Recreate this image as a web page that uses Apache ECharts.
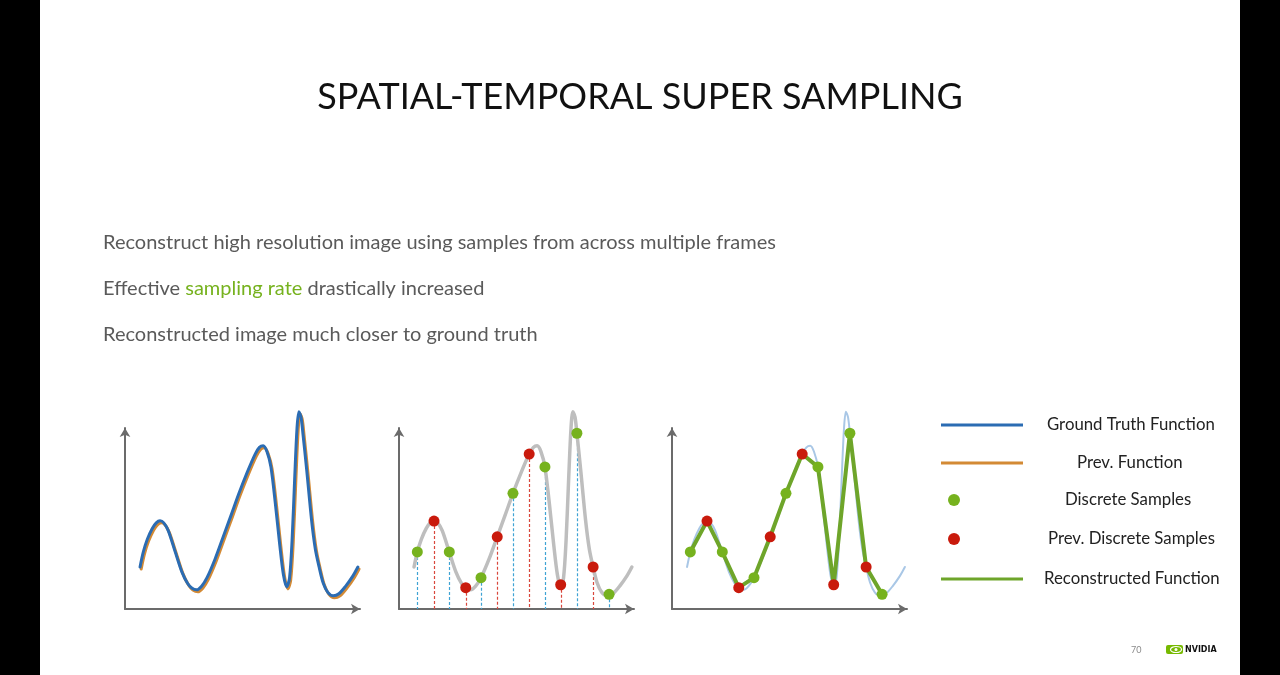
<!DOCTYPE html>
<html>
<head>
<meta charset="utf-8">
<script src="https://cdn.jsdelivr.net/npm/echarts@6/dist/echarts.min.js"></script>
<style>
  html, body { margin: 0; padding: 0; background: #000; }
  #chart { width: 1280px; height: 675px;
    background: linear-gradient(to right, #000 0, #000 40px, #fff 40px, #fff 1240px, #000 1240px); }
</style>
</head>
<body>
<div id="chart"></div>
<script>
// ---- data (axis units: x 0..100 along the time axis, y 0..100 up the value axis) ----
const truthCurve = [[6.4,23.2],[7.8,31.5],[9.5,38.5],[11.6,44.5],[13.3,47.6],[14.9,48.7],[16.5,47.6],[18.4,43.3],[21.4,31.5],[24.2,20.5],[26.6,14.2],[28.4,11.6],[30.5,10.6],[32.6,12.6],[34.9,17.3],[38.3,27.5],[41.8,39.9],[45.2,52.0],[48.5,63.9],[52.0,75.5],[55.4,85.6],[57.2,89.3],[58.8,90.2],[60.4,87.0],[62.1,78.5],[64.0,58.0],[65.8,36.0],[67.4,19.0],[68.8,12.2],[70.0,17.0],[71.1,38.0],[72.2,72.0],[73.2,100.0],[74.0,109.0],[74.9,106.0],[75.7,97.1],[77.3,77.0],[79.4,49.0],[81.0,33.0],[82.6,23.2],[84.3,14.5],[86.3,9.2],[88.6,7.3],[91.0,8.4],[94.0,12.8],[97.0,18.3],[99.1,23.2]];
const prevCurve = [[6.9,22.1],[8.3,30.4],[10.0,37.4],[12.1,43.4],[13.8,46.5],[15.4,47.6],[17.0,46.5],[18.9,42.2],[21.9,30.4],[24.7,19.4],[27.1,13.1],[28.9,10.5],[31.0,9.5],[33.1,11.5],[35.4,16.2],[38.8,26.4],[42.3,38.8],[45.7,50.9],[49.0,62.8],[52.5,74.4],[55.9,84.5],[57.7,88.2],[59.3,89.1],[60.9,85.9],[62.6,77.4],[64.5,56.9],[66.3,34.9],[67.9,17.9],[69.3,11.1],[70.5,15.9],[71.6,36.9],[72.7,70.9],[73.7,98.9],[74.5,107.9],[75.4,104.9],[76.2,96.0],[77.8,75.9],[79.9,47.9],[81.5,31.9],[83.1,22.1],[84.8,13.4],[86.8,8.1],[89.1,6.2],[91.5,7.3],[94.5,11.7],[97.5,17.2],[99.6,22.1]];
const discreteSamples = [[7.8,31.5],[21.4,31.5],[34.9,17.3],[48.5,63.9],[62.1,78.5],[75.7,97.1],[89.4,8.1]];
const prevDiscreteSamples = [[14.9,48.6],[28.4,11.8],[41.8,39.9],[55.4,85.6],[68.8,13.4],[82.6,23.2]];
const legendNames = ['Ground Truth Function','Prev. Function','Discrete Samples','Prev. Discrete Samples','Reconstructed Function'];
const titleText = 'SPATIAL-TEMPORAL SUPER SAMPLING';
const bullets = ['Reconstruct high resolution image using samples from across multiple frames',
                 'Effective {g|sampling rate} drastically increased',
                 'Reconstructed image much closer to ground truth'];
const pageNumber = '70';

// reconstructed function: all samples merged in x order
const reconstructed = discreteSamples.concat(prevDiscreteSamples).sort((a,b)=>a[0]-b[0]);

const C = { blue:'#2b6cb3', orange:'#d38a35', green:'#76b21e', red:'#c91a0c', gray:'#bebebe',
            lightBlue:'#a9c7e6', recon:'#6ea52a', axis:'#6b6b6b', dashBlue:'#3fa3d4', dashRed:'#d9473c' };
const FONT = 'Lato';

const gridLefts = [125, 399, 672];
const grids = gridLefts.map(l => ({ left: l, top: 428, width: 235, height: 181 }));
const axisCommon = {
  type: 'value', min: 0, max: 100,
  axisLine: { show: true, symbol: ['none','arrow'], symbolSize: [8,9], lineStyle: { color: C.axis, width: 2 } },
  axisTick: { show: false }, axisLabel: { show: false }, splitLine: { show: false }
};
const xAxes = gridLefts.map((_,i) => Object.assign({ gridIndex: i }, axisCommon));
const yAxes = gridLefts.map((_,i) => Object.assign({ gridIndex: i }, axisCommon));

function curve(name, data, idx, color, width, z, smooth) {
  return { name, type: 'line', xAxisIndex: idx, yAxisIndex: idx, data, smooth: smooth,
    showSymbol: false, clip: false, z, color,
    itemStyle: { color }, lineStyle: { color, width, cap: 'round', join: 'round' } };
}
function dots(name, data, idx, color) {
  return { name, type: 'scatter', xAxisIndex: idx, yAxisIndex: idx, data, symbolSize: 11,
    clip: false, z: 10, color, itemStyle: { color, opacity: 1 } };
}
// dashed drop line from each sample down to the time axis
function drops(name, data, idx, color) {
  return { name, type: 'custom', xAxisIndex: idx, yAxisIndex: idx, data, z: 1, silent: true,
    color, itemStyle: { color },
    encode: { x: 0, y: 1 },
    renderItem: (params, api) => {
      const top = api.coord([api.value(0), api.value(1)]);
      const bot = api.coord([api.value(0), 0]);
      const x = Math.round(top[0]) + 0.5;
      return { type: 'line', shape: { x1: x, y1: top[1], x2: x, y2: bot[1] },
        style: { stroke: color, lineWidth: 1.2, lineDash: [3, 2], fill: null } };
    } };
}

const series = [
  curve('Prev. Function', prevCurve, 0, C.orange, 3, 3, 0.3),
  curve('Ground Truth Function', truthCurve, 0, C.blue, 3, 4, 0.3),
  drops('Discrete sample drop lines', discreteSamples, 1, C.dashBlue),
  drops('Prev. sample drop lines', prevDiscreteSamples, 1, C.dashRed),
  curve('Ground Truth (samples view)', truthCurve, 1, C.gray, 3.5, 3, 0.3),
  dots('Discrete Samples', discreteSamples, 1, C.green),
  dots('Prev. Discrete Samples', prevDiscreteSamples, 1, C.red),
  curve('Ground Truth (reconstruction view)', truthCurve, 2, C.lightBlue, 2, 3, 0.3),
  curve('Reconstructed Function', reconstructed, 2, C.recon, 4, 5, false),
  dots('Discrete Samples', discreteSamples, 2, C.green),
  dots('Prev. Discrete Samples', prevDiscreteSamples, 2, C.red)
];

// legend: icon positions and text centres
const LFS = 16.8;
const mctx = document.createElement('canvas').getContext('2d');
mctx.font = LFS + 'px ' + FONT;
const legendSpec = [
  { name: legendNames[0], left: 941, cy: 425, icon: 'rect', w: 82, h: 3, color: C.blue,  cx: 1130.5 },
  { name: legendNames[1], left: 941, cy: 463, icon: 'rect', w: 82, h: 3, color: C.orange, cx: 1129.7 },
  { name: legendNames[2], left: 948, cy: 500, icon: 'circle', w: 12, h: 12, color: C.green, cx: 1128.3 },
  { name: legendNames[3], left: 948, cy: 539, icon: 'circle', w: 12, h: 12, color: C.red, cx: 1131 },
  { name: legendNames[4], left: 941, cy: 579, icon: 'rect', w: 82, h: 3, color: C.recon, cx: 1131.5 }
];
const legends = legendSpec.map(l => {
  const tw = mctx.measureText(l.name).width;
  const pad = Math.max(0, Math.round(l.cx - tw / 2 - (l.left + l.w + 5)));
  return {
    left: l.left, top: l.cy - 10, padding: 0, itemWidth: l.w, itemHeight: l.h, selectedMode: false,
    data: [{ name: l.name, icon: l.icon, itemStyle: { color: l.color, opacity: 1 } }],
    textStyle: { fontFamily: FONT, fontSize: LFS, color: '#222', lineHeight: 20, padding: [0,0,0,pad] }
  };
});

const BFS = 20;
const bodyStyle = { fontFamily: FONT, fontSize: BFS, color: '#5a5a5a', lineHeight: 24, fontWeight: 'normal',
  rich: { g: { fontFamily: FONT, fontSize: BFS, color: '#76b21e', lineHeight: 24 } } };
const titles = [
  { text: titleText, left: 'center', top: 97 - 22, padding: 0,
    textStyle: { fontFamily: FONT, fontSize: 36, fontWeight: 'normal', color: '#111', lineHeight: 44 } }
].concat(bullets.map((b,i) => ({ text: b, left: 103, top: [243, 289, 335][i] - 12, padding: 0, textStyle: bodyStyle })))
 .concat([{ text: pageNumber, left: 1131, top: 644, padding: 0,
    textStyle: { fontFamily: FONT, fontSize: 9, color: '#8a8a8a', fontWeight: 'normal', lineHeight: 12 } }]);

const chart = echarts.init(document.getElementById('chart'), null, { renderer: 'canvas' });
chart.setOption({
  backgroundColor: 'transparent',
  animation: false,
  title: titles,
  legend: legends,
  grid: grids, xAxis: xAxes, yAxis: yAxes,
  series,
  graphic: [
    { type: 'group', left: 1166, top: 644, children: [
      { type: 'rect', shape: { x: 0, y: 0, width: 17, height: 9, r: 2 }, style: { fill: '#76b900' } },
      { type: 'ellipse', shape: { cx: 10, cy: 4.5, rx: 5.5, ry: 3 }, style: { fill: 'none', stroke: '#fff', lineWidth: 1.2 } },
      { type: 'circle', shape: { cx: 10, cy: 4.5, r: 1.5 }, style: { fill: '#fff' } },
      { type: 'text', x: 19, y: 0.5, style: { text: 'NVIDIA', fontFamily: 'DejaVu Sans', fontWeight: 'bold', fontSize: 8, fill: '#111' } }
    ] }
  ]
});
</script>
</body>
</html>
